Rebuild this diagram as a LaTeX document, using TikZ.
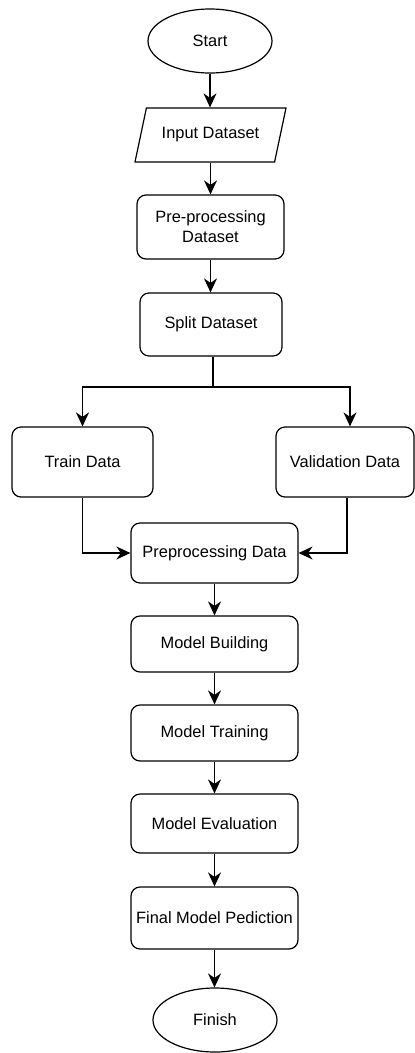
\documentclass[tikz,border=0pt]{standalone}
\usepackage{fontspec}
\setmainfont{Liberation Sans}
\usetikzlibrary{shapes.geometric,arrows.meta}
\begin{document}
\begin{tikzpicture}[x=1pt,y=-1pt,
  font=\fontsize{16.4}{20}\selectfont,
  every node/.style={text=black},
  base/.style={draw=black, line width=1.2pt, align=center, inner sep=2pt},
  proc/.style={base, rounded corners=9pt},
  term/.style={base, ellipse, minimum width=124pt, minimum height=64pt},
  io/.style={base, trapezium, trapezium left angle=58.6, trapezium right angle=121.4,
    trapezium stretches body, minimum width=151pt, minimum height=54pt},
  arr/.style={draw=black, line width=1.2pt, -{Stealth[length=14pt,width=13pt,inset=4.5pt]}},
  line/.style={draw=black, line width=1.2pt}]
\useasboundingbox (0,0) rectangle (415,1053);

\node[term] (start) at (210,41) {Start};
\node[io] (input) at (210.5,135) {Input Dataset};
\node[proc, minimum width=147pt, minimum height=64pt] (pre) at (210.5,227) {Pre-processing\\Dataset};
\node[proc, minimum width=142pt, minimum height=63pt] (split) at (211,324.5) {Split Dataset};
\node[proc, minimum width=141pt, minimum height=70pt] (train) at (82.5,462) {Train Data};
\node[proc, minimum width=138pt, minimum height=70pt] (val) at (345,462) {Validation Data};
\node[proc, minimum width=167pt, minimum height=60pt] (prep) at (214.5,553) {Preprocessing Data};
\node[proc, minimum width=167pt, minimum height=56pt] (build) at (214.5,644) {Model Building};
\node[proc, minimum width=167pt, minimum height=56pt] (trainm) at (214.5,733) {Model Training};
\node[proc, minimum width=167pt, minimum height=59pt] (eval) at (214.5,823.5) {Model Evaluation};
\node[proc, minimum width=167pt, minimum height=62pt] (final) at (214.5,918) {Final Model Pediction};
\node[term] (finish) at (215,1020) {Finish};

\coordinate (br) at (213,387);

\draw[arr] (start.south) -- (start.south |- input.north);
\draw[arr] (input.south) -- (input.south |- pre.north);
\draw[arr] (pre.south) -- (pre.south |- split.north);
\draw[line] ([xshift=2pt]split.south) -- (br);
\draw[arr] (br) -| (train.north);
\draw[arr] (br) -| ([xshift=5pt]val.north);
\draw[arr] (train.south) |- (prep.west);
\draw[arr] ([xshift=2pt]val.south) |- (prep.east);
\draw[arr] (prep.south) -- (prep.south |- build.north);
\draw[arr] (build.south) -- (build.south |- trainm.north);
\draw[arr] (trainm.south) -- (trainm.south |- eval.north);
\draw[arr] (eval.south) -- (eval.south |- final.north);
\draw[arr] (final.south) -- (final.south |- finish.north);
\end{tikzpicture}
\end{document}
